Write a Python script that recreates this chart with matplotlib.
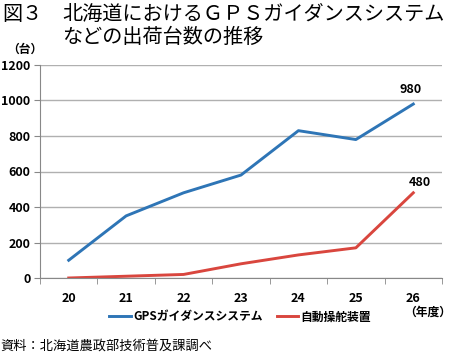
import matplotlib.pyplot as plt
from matplotlib.ticker import FixedLocator

plt.rcParams['font.family'] = ['Noto Sans CJK JP', 'DejaVu Sans']

years = ['20', '21', '22', '23', '24', '25', '26']
gps   = [100, 350, 480, 580, 830, 780, 980]
auto  = [0, 10, 20, 80, 130, 170, 480]
yticks = [0, 200, 400, 600, 800, 1000, 1200]

fig = plt.figure(figsize=(4.5, 3.54), dpi=100)
ax = fig.add_axes([40/450, 1-278/354, 402/450, 213/354])

x = range(len(years))
ax.plot(x, gps,  color='#2e75b6', lw=2.1, label='GPSガイダンスシステム')
ax.plot(x, auto, color='#d9463e', lw=2.1, label='自動操舵装置')

ax.set_xlim(-0.5, len(years) - 0.5)
ax.set_ylim(0, 1200)
ax.set_yticks(yticks)
ax.set_yticklabels([str(v) for v in yticks], fontsize=9, fontweight='bold')
ax.set_xticks(list(x))
ax.set_xticklabels(years, fontsize=9, fontweight='bold')
ax.tick_params(axis='x', length=0, pad=10)
ax.tick_params(axis='y', length=4, color='#888888', direction='out', pad=3)
ax.xaxis.set_minor_locator(FixedLocator([i - 0.5 for i in range(len(years) + 1)]))
ax.tick_params(axis='x', which='minor', length=4, color='#888888')
ax.grid(axis='y', color='#b0b0b0', lw=1)
ax.set_axisbelow(True)
for s in ['top', 'right']:
    ax.spines[s].set_visible(False)
for s in ['left', 'bottom']:
    ax.spines[s].set_color('#888888')

ax.annotate(str(gps[-1]), (6, gps[-1]), xytext=(-2, 6), textcoords='offset points',
            ha='center', va='bottom', fontsize=9, fontweight='bold')
ax.annotate(str(auto[-1]), (6, auto[-1]), xytext=(5, 3), textcoords='offset points',
            ha='center', va='bottom', fontsize=9, fontweight='bold')

fig.text(2/450, 1-14/354, '図３', fontsize=14.5, va='center')
fig.text(62/450, 1-14/354, '北海道におけるＧＰＳガイダンスシステム', fontsize=14.5, va='center')
fig.text(62/450, 1-37/354, 'などの出荷台数の推移', fontsize=14.5, va='center')
fig.text(25/450, 1-49/354, '（台）', fontsize=8.5, fontweight='bold', va='center', ha='center')
fig.text(428/450, 1-312/354, '（年度）', fontsize=8.5, fontweight='bold', va='center', ha='center')

fig.legend(loc='center', bbox_to_anchor=(240/450, 1-317/354), ncol=2, frameon=False,
           handlelength=1.8, handletextpad=0.2, columnspacing=1.2,
           prop={'weight': 'bold', 'size': 8.5})
fig.text(0, 1-346/354, '資料：北海道農政部技術普及課調べ', fontsize=9.5, va='center')

fig.savefig('out.png', dpi=100)
